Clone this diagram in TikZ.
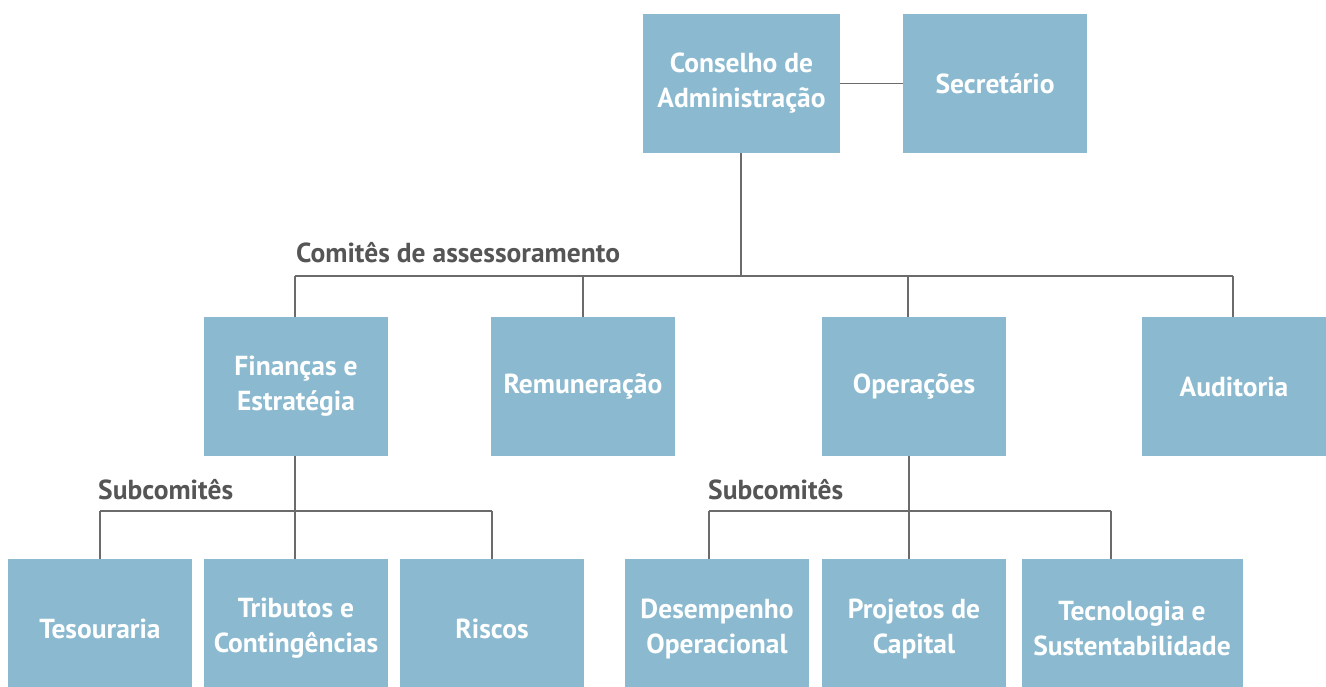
\documentclass[tikz,border=0pt]{standalone}
\usepackage{fontspec}
\setmainfont{PT Sans}
\definecolor{boxblue}{HTML}{8BBAD0}
\definecolor{labelgray}{HTML}{555555}
\definecolor{linegray}{HTML}{6B6B6B}
\begin{document}
\begin{tikzpicture}[x=1pt,y=-1pt,
  orgbox/.style={fill=boxblue, draw=none, text=white, align=center,
    font=\fontsize{27.5}{35}\selectfont\bfseries, inner sep=0pt,
    minimum width=184pt, minimum height=139pt},
  grouplabel/.style={text=labelgray, font=\fontsize{27.5}{32}\selectfont\bfseries, anchor=base west, inner sep=0pt},
  conn/.style={draw=linegray, line width=1.4pt}]
\useasboundingbox (0,0) rectangle (1326,687);
% top
\node[orgbox, minimum width=197pt] (cons) at (741.5,83.5) {Conselho de\\Administração};
\node[orgbox] (sec) at (995,83.5) {Secretário};
% level 2
\node[orgbox] (fin) at (296,386.5) {Finanças e\\Estratégia};
\node[orgbox] (rem) at (583,386.5) {Remuneração};
\node[orgbox] (ope) at (914,386.5) {Operações};
\node[orgbox] (aud) at (1234,386.5) {Auditoria};
% level 3 (boxes run past the bottom edge)
\node[orgbox] (tes) at (100,628.5) {Tesouraria};
\node[orgbox] (tri) at (296,628.5) {Tributos e\\Contingências};
\node[orgbox] (ris) at (492,628.5) {Riscos};
\node[orgbox] (des) at (717,628.5) {Desempenho\\Operacional};
\node[orgbox] (pro) at (914,628.5) {Projetos de\\Capital};
\node[orgbox, minimum width=221pt] (tec) at (1132,628.5) {Tecnologia e\\Sustentabilidade};
% labels
\node[grouplabel] (lblcom) at (296,263) {Comitês de assessoramento};
\node[grouplabel] (lblsub1) at (98,499) {Subcomitês};
\node[grouplabel] (lblsub2) at (708,499) {Subcomitês};
% bus coordinates
\coordinate (b1) at (741,276);
\coordinate (b1l) at (295,276);
\coordinate (b1r) at (1233,276);
\coordinate (b2) at (295,511);
\coordinate (b2l) at (100,511);
\coordinate (b2r) at (492,511);
\coordinate (b3) at (909,511);
\coordinate (b3l) at (709,511);
\coordinate (b3r) at (1111,511);
% connectors
\draw[conn] (cons.east) -- (sec.west);
\draw[conn] (cons.south -| b1) -- (b1);
\draw[conn] (b1l) -- (b1r);
\draw[conn] (b1l) -- (b1l |- fin.north);
\draw[conn] (rem.north |- b1) -- (rem.north);
\draw[conn] (b1 -| 908,0) -- (908,317);
\draw[conn] (b1r) -- (b1r |- aud.north);
\draw[conn] (b2 |- fin.south) -- (b2);
\draw[conn] (b2l) -- (b2r);
\draw[conn] (b2l) -- (b2l |- tes.north);
\draw[conn] (b2) -- (b2 |- tri.north);
\draw[conn] (b2r) -- (b2r |- ris.north);
\draw[conn] (b3 |- ope.south) -- (b3);
\draw[conn] (b3l) -- (b3r);
\draw[conn] (b3l) -- (b3l |- des.north);
\draw[conn] (b3) -- (b3 |- pro.north);
\draw[conn] (b3r) -- (b3r |- tec.north);
\end{tikzpicture}
\end{document}
